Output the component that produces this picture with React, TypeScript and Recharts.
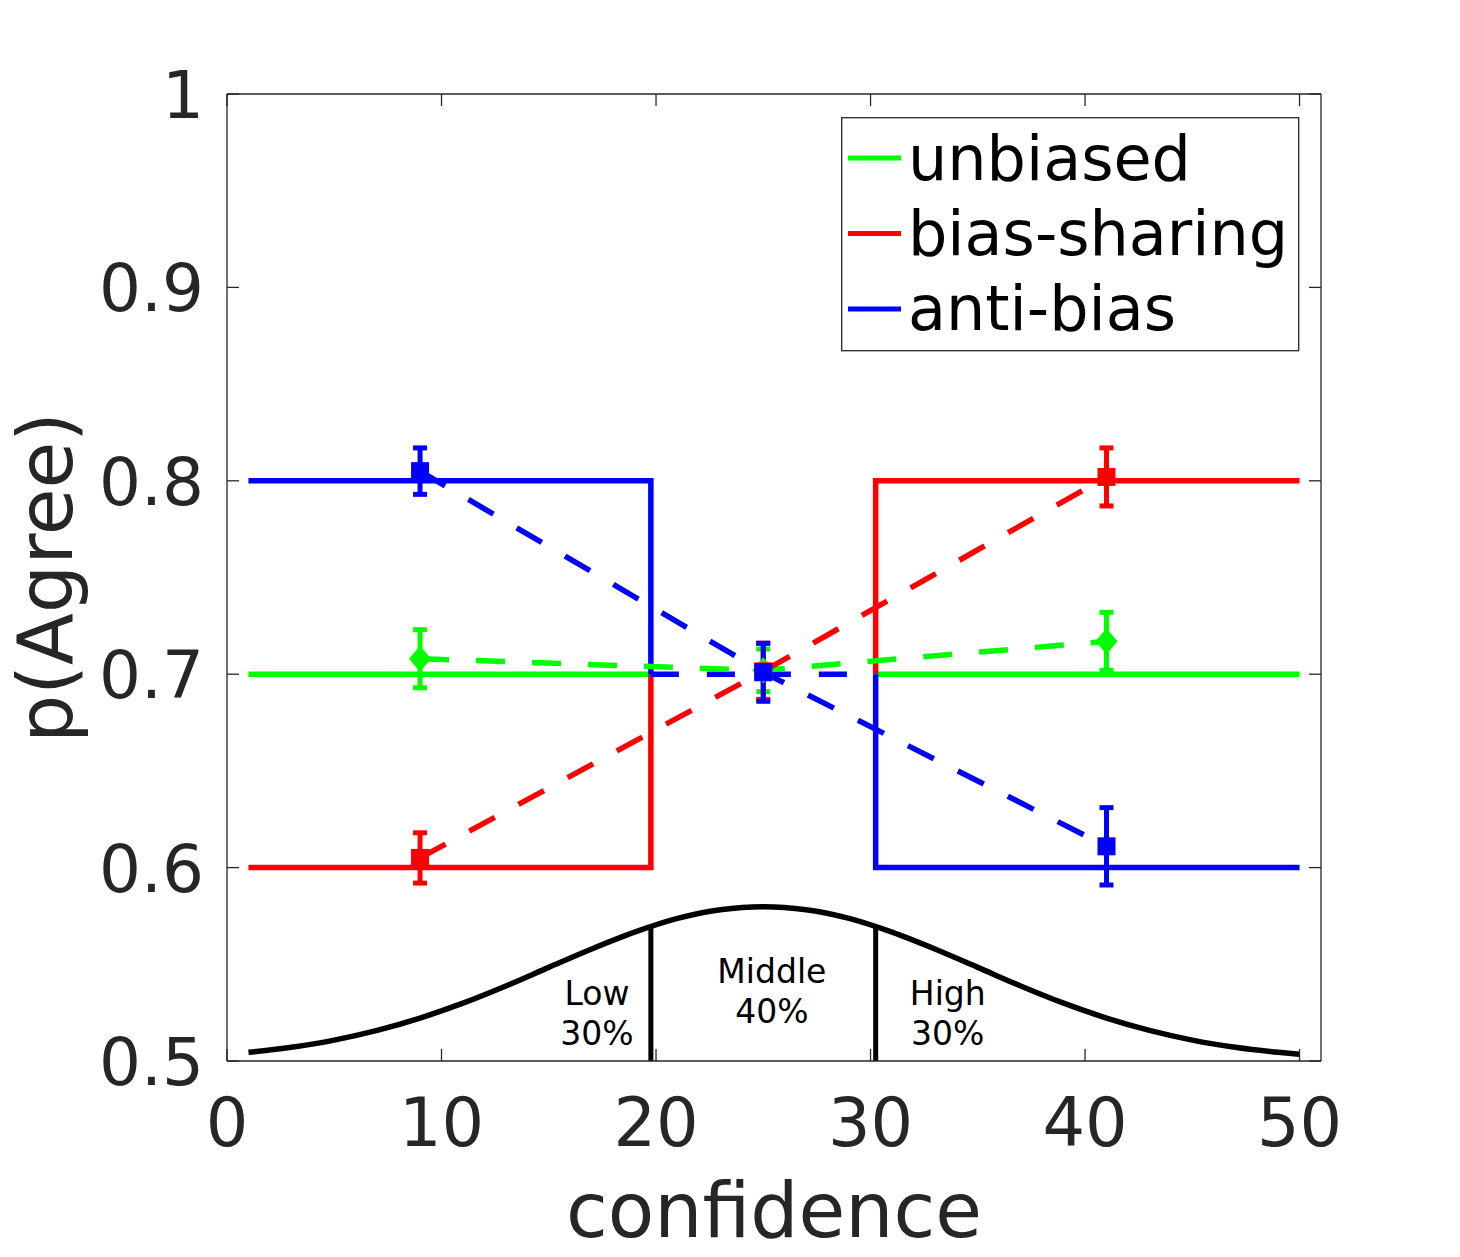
import React from "react";
import {
  LineChart,
  Line,
  XAxis,
  YAxis,
  ErrorBar,
  ReferenceDot,
  Legend,
} from "recharts";

const conditions = ["unbiased", "bias-sharing", "anti-bias"];
const colors = ["#00ff00", "#ff0000", "#0000ff"];

// observed p(Agree) per confidence bin, with error
const binCentres = [9, 25, 41];
const unbiasedObs = [0.708, 0.702, 0.717];
const unbiasedErr = [0.015, 0.011, 0.015];
const sharingObs = [0.605, 0.7015, 0.802];
const sharingErr = [0.013, 0.0145, 0.015];
const antiObs = [0.805, 0.701, 0.611];
const antiErr = [0.012, 0.015, 0.02];

// model p(Agree) in Low / Middle / High bins
const unbiasedModel = [0.7, 0.7, 0.7];
const sharingModel = [0.6, 0.7, 0.8];
const antiModel = [0.8, 0.7, 0.6];
const confRange = [1, 50];
const cutpoints = [19.76, 30.24];

// confidence distribution, drawn on the p(Agree) scale
const densityX = [1, 3, 5, 7, 9, 11, 13, 15, 17, 19, 21, 23, 25, 27, 29, 31, 33, 35, 37, 39, 41, 43, 45, 47, 49, 50];
const densityY = [
  0.5045, 0.5071, 0.5108, 0.5158, 0.5222, 0.5299, 0.5388, 0.5484, 0.5579, 0.5666,
  0.5737, 0.5782, 0.5798, 0.5782, 0.5737, 0.5666, 0.5579, 0.5484, 0.5388, 0.5299,
  0.5222, 0.5158, 0.5108, 0.5071, 0.5045, 0.5035,
];
const cutHeights = [0.5696, 0.5696];

const regionNames = ["Low", "Middle", "High"];
const regionShares = ["30%", "40%", "30%"];

const xTicks = [0, 10, 20, 30, 40, 50];
const xTickLabels = ["0", "10", "20", "30", "40", "50"];
const yTicks = [0.5, 0.6, 0.7, 0.8, 0.9, 1];
const yTickLabels = ["0.5", "0.6", "0.7", "0.8", "0.9", "1"];

const FONT = "DejaVu Sans";
const INK = "#262626";

const stepData = (lv: number[]) => [
  { x: confRange[0], y: lv[0] },
  { x: cutpoints[0], y: lv[0] },
  { x: cutpoints[0], y: lv[1] },
  { x: cutpoints[0], y: null },
  { x: cutpoints[1], y: null },
  { x: cutpoints[1], y: lv[1] },
  { x: cutpoints[1], y: lv[2] },
  { x: confRange[1], y: lv[2] },
];

const obsData = (obs: number[], err: number[]) =>
  binCentres.map((x, i) => ({ x, y: obs[i], err: err[i] }));

const densityData = densityX.map((x, i) => ({ x, y: densityY[i] }));
const cutData = cutpoints.map((c, i) => [
  { x: c, y: 0.5 },
  { x: c, y: cutHeights[i] },
]);
const middleData = [
  { x: cutpoints[0], y: antiModel[1] },
  { x: cutpoints[1], y: antiModel[1] },
];
const regionX = [17.25, 25.4, 33.6];
const regionY = [0.5287, 0.5405, 0.5287];

const squareDot = (color: string) => (p: any) => (
  <rect key={`sq-${color}-${p.index}`} x={p.cx - 9} y={p.cy - 9} width={18} height={18} fill={color} />
);
const diamondDot = (color: string) => (p: any) => (
  <polygon
    key={`dm-${color}-${p.index}`}
    points={`${p.cx},${p.cy - 13} ${p.cx + 11},${p.cy} ${p.cx},${p.cy + 13} ${p.cx - 11},${p.cy}`}
    fill={color}
  />
);

const BottomTick = (p: any) => (
  <g>
    <line x1={p.x} y1={p.y} x2={p.x} y2={p.y - 12} stroke={INK} strokeWidth={1.3} />
    <text x={p.x} y={p.y + 85} textAnchor="middle" fontSize={67} fontFamily={FONT} fill={INK}>
      {xTickLabels[xTicks.indexOf(p.payload.value)]}
    </text>
  </g>
);
const TopTick = (p: any) => (
  <line x1={p.x} y1={p.y} x2={p.x} y2={p.y + 12} stroke={INK} strokeWidth={1.3} />
);
const LeftTick = (p: any) => (
  <g>
    <line x1={p.x} y1={p.y} x2={p.x + 12} y2={p.y} stroke={INK} strokeWidth={1.3} />
    <text x={p.x - 23} y={p.y + 24} textAnchor="end" fontSize={66} fontFamily={FONT} fill={INK}>
      {yTickLabels[yTicks.indexOf(p.payload.value)]}
    </text>
  </g>
);
const RightTick = (p: any) => (
  <line x1={p.x} y1={p.y} x2={p.x - 12} y2={p.y} stroke={INK} strokeWidth={1.3} />
);

const LegendBox = () => (
  <svg width={460} height={236} style={{ display: "block" }}>
    <rect x={0.7} y={0.7} width={457} height={233} fill="#fff" stroke={INK} strokeWidth={1.3} />
    {conditions.map((c, i) => (
      <g key={c}>
        <line x1={7} x2={60} y1={41 + i * 75.5} y2={41 + i * 75.5} stroke={colors[i]} strokeWidth={5} />
        <text x={67} y={63 + i * 75} fontSize={62} fontFamily={FONT} fill="#000">
          {c}
        </text>
      </g>
    ))}
  </svg>
);

const axisLine = { stroke: INK, strokeWidth: 1.3 };

export default function App() {
  return (
    <div style={{ width: 1460, height: 1257, position: "relative", margin: "-8px 0 0 -8px" }}>
      <LineChart width={1460} height={1257} margin={{ top: 93, right: 138, bottom: 195, left: 226 }}>
        <XAxis
          dataKey="x"
          type="number"
          domain={[0, 51]}
          ticks={xTicks}
          interval={0}
          height={1}
          tickSize={0}
          tickMargin={0}
          tickLine={false}
          axisLine={axisLine}
          tick={BottomTick}
          allowDataOverflow
          label={(props: any) => {
            const vb = props.viewBox;
            return (
              <text x={vb.x + vb.width / 2} y={vb.y + 176} textAnchor="middle" fontSize={76} fontFamily={FONT} fill={INK}>
                confidence
              </text>
            );
          }}
        />
        <XAxis
          xAxisId="top"
          orientation="top"
          dataKey="x"
          type="number"
          domain={[0, 51]}
          ticks={xTicks}
          interval={0}
          height={1}
          tickSize={0}
          tickMargin={0}
          tickLine={false}
          axisLine={axisLine}
          tick={TopTick}
          allowDataOverflow
        />
        <YAxis
          type="number"
          domain={[0.5, 1]}
          ticks={yTicks}
          interval={0}
          width={1}
          tickSize={0}
          tickMargin={0}
          tickLine={false}
          axisLine={axisLine}
          tick={LeftTick}
          allowDataOverflow
          label={(props: any) => {
            const vb = props.viewBox;
            const cy = vb.y + vb.height / 2;
            return (
              <text x={72} y={cy} transform={`rotate(-90 72 ${cy})`} textAnchor="middle" fontSize={76} fontFamily={FONT} fill={INK}>
                p(Agree)
              </text>
            );
          }}
        />
        <YAxis
          yAxisId="right"
          orientation="right"
          type="number"
          domain={[0.5, 1]}
          ticks={yTicks}
          interval={0}
          width={1}
          tickSize={0}
          tickMargin={0}
          tickLine={false}
          axisLine={axisLine}
          tick={RightTick}
          allowDataOverflow
        />

        <Legend
          layout="vertical"
          align="center"
          verticalAlign="middle"
          wrapperStyle={{ left: 841, top: 117, width: 460, height: 236 }}
          content={() => <LegendBox />}
        />

        {/* confidence distribution and bin cut-points */}
        <Line data={densityData} dataKey="y" type="monotone" stroke="#000" strokeWidth={5.5} dot={false} isAnimationActive={false} legendType="none" />
        {cutData.map((d, i) => (
          <Line key={`cut-${i}`} data={d} dataKey="y" stroke="#000" strokeWidth={5} dot={false} isAnimationActive={false} legendType="none" />
        ))}

        {/* model predictions */}
        <Line data={stepData(unbiasedModel)} dataKey="y" stroke={colors[0]} strokeWidth={5.5} dot={false} isAnimationActive={false} />
        <Line data={stepData(sharingModel)} dataKey="y" stroke={colors[1]} strokeWidth={5.5} dot={false} isAnimationActive={false} />
        <Line data={stepData(antiModel)} dataKey="y" stroke={colors[2]} strokeWidth={5.5} dot={false} isAnimationActive={false} />
        <Line data={middleData} dataKey="y" stroke={colors[2]} strokeWidth={5.5} strokeDasharray="28 28" dot={false} isAnimationActive={false} />

        {/* observed data */}
        <Line data={obsData(unbiasedObs, unbiasedErr)} dataKey="y" stroke={colors[0]} strokeWidth={5.5} strokeDasharray="29 27" dot={diamondDot(colors[0])} isAnimationActive={false}>
          <ErrorBar dataKey="err" width={7} strokeWidth={5} stroke={colors[0]} direction="y" />
        </Line>
        <Line data={obsData(sharingObs, sharingErr)} dataKey="y" stroke={colors[1]} strokeWidth={5.5} strokeDasharray="29 27" dot={squareDot(colors[1])} isAnimationActive={false}>
          <ErrorBar dataKey="err" width={7} strokeWidth={5} stroke={colors[1]} direction="y" />
        </Line>
        <Line data={obsData(antiObs, antiErr)} dataKey="y" stroke={colors[2]} strokeWidth={5.5} strokeDasharray="29 27" dot={squareDot(colors[2])} isAnimationActive={false}>
          <ErrorBar dataKey="err" width={7} strokeWidth={5} stroke={colors[2]} direction="y" />
        </Line>

        {regionNames.map((name, i) => (
          <ReferenceDot
            key={name}
            x={regionX[i]}
            y={regionY[i]}
            r={0}
            fill="none"
            stroke="none"
            label={(props: any) => {
              const vb = props.viewBox;
              return (
                <text x={vb.x} y={vb.y} textAnchor="middle" fontSize={33} fontFamily={FONT} fill="#000">
                  <tspan x={vb.x}>{name}</tspan>
                  <tspan x={vb.x} dy={40}>{regionShares[i]}</tspan>
                </text>
              );
            }}
          />
        ))}
      </LineChart>
    </div>
  );
}
